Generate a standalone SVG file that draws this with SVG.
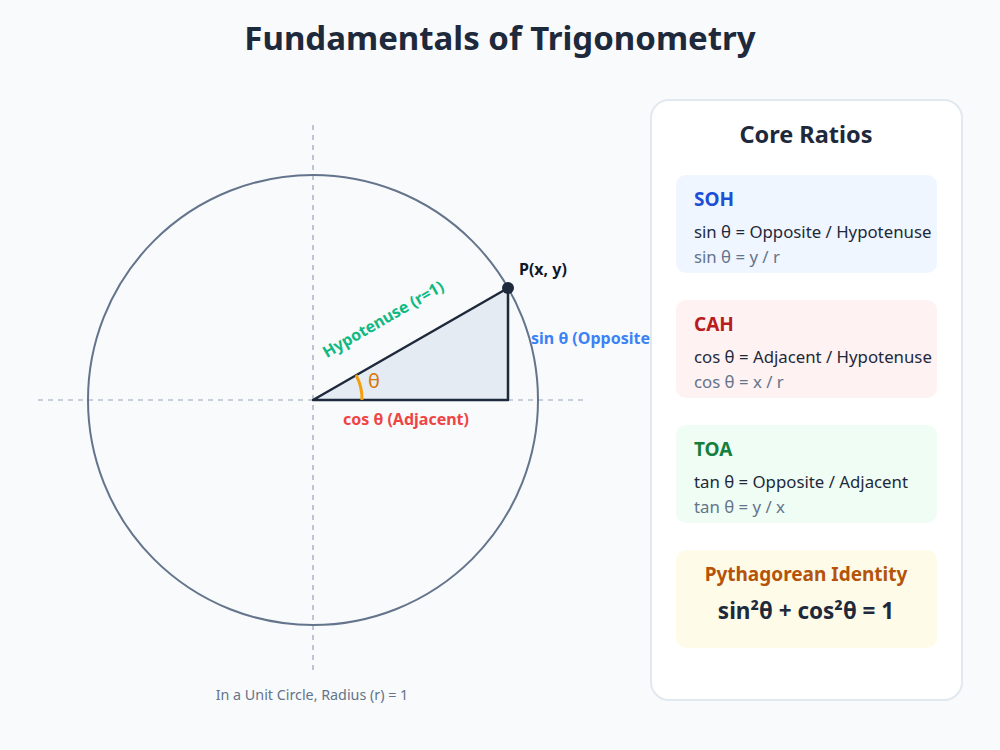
<svg xmlns="http://www.w3.org/2000/svg" width="1000" height="750" viewBox="0 0 1000 750">
<style>
text{font-family:"Noto Sans","Open Sans","Liberation Sans",sans-serif}
.title{font-size:33px;font-weight:700;fill:#1e293b}
.axis{stroke:#94a3b8;stroke-width:1.2;stroke-dasharray:5 5;fill:none}
.lbl{font-size:16px;font-weight:700}
.bt{font-size:19px;font-weight:700}
.l1{font-size:16.8px;fill:#1e293b}
.l2{font-size:16.8px;fill:#64748b}
</style>
<rect width="1000" height="750" fill="#f8fafc"/>
<text class="title" x="500" y="50" text-anchor="middle">Fundamentals of Trigonometry</text>

<g id="diagram">
<line class="axis" x1="38" y1="400" x2="583" y2="400"/>
<line class="axis" x1="313" y1="125" x2="313" y2="670"/>
<circle cx="313" cy="400" r="225" fill="none" stroke="#64748b" stroke-width="2"/>
<polygon points="313,400 508,288 508,400" fill="#e2e8f0" fill-opacity="0.85" stroke="#1e293b" stroke-width="2.5" stroke-linejoin="round"/>
<path d="M 356 375 A 50 50 0 0 1 362 400" fill="none" stroke="#f59e0b" stroke-width="3"/>
<text x="368" y="388" font-size="20" fill="#d97706">θ</text>
<circle cx="508" cy="288" r="6" fill="#1e293b"/>
<text class="lbl" x="519" y="275" fill="#0f172a">P(x, y)</text>
<text class="lbl" x="386" y="324" fill="#10b981" text-anchor="middle" transform="rotate(-30 386 324)" font-size="16.5">Hypotenuse (r=1)</text>
<text class="lbl" x="406" y="425" fill="#ef4444" text-anchor="middle">cos θ (Adjacent)</text>
<text class="lbl" x="531" y="344" fill="#3b82f6">sin θ (Opposite)</text>
<text x="312" y="700" font-size="14.3" fill="#64748b" text-anchor="middle">In a Unit Circle, Radius (r) = 1</text>
</g>

<g id="panel">
<rect x="651" y="100" width="311" height="600" rx="18" fill="#ffffff" stroke="#e2e8f0" stroke-width="2"/>
<text x="806" y="143" font-size="23.5" font-weight="700" fill="#1e293b" text-anchor="middle">Core Ratios</text>
</g>
<g id="soh">
<rect x="676" y="175" width="261" height="98" rx="10" fill="#eff6ff"/>
<text class="bt" x="694" y="206" fill="#1d4ed8">SOH</text>
<text class="l1" x="694" y="238">sin θ = Opposite / Hypotenuse</text>
<text class="l2" x="694" y="263">sin θ = y / r</text>
</g>
<g id="cah">
<rect x="676" y="300" width="261" height="98" rx="10" fill="#fef2f2"/>
<text class="bt" x="694" y="331" fill="#b91c1c">CAH</text>
<text class="l1" x="694" y="363">cos θ = Adjacent / Hypotenuse</text>
<text class="l2" x="694" y="388">cos θ = x / r</text>
</g>
<g id="toa">
<rect x="676" y="425" width="261" height="98" rx="10" fill="#f0fdf4"/>
<text class="bt" x="694" y="456" fill="#15803d">TOA</text>
<text class="l1" x="694" y="488">tan θ = Opposite / Adjacent</text>
<text class="l2" x="694" y="513">tan θ = y / x</text>
</g>
<g id="pyth">
<rect x="676" y="550" width="261" height="98" rx="10" fill="#fefce8"/>
<text class="bt" x="806" y="581" fill="#b45309" text-anchor="middle">Pythagorean Identity</text>
<text x="806" y="619" font-size="22.5" font-weight="700" fill="#1e293b" text-anchor="middle">sin²θ + cos²θ = 1</text>
</g>
</svg>
